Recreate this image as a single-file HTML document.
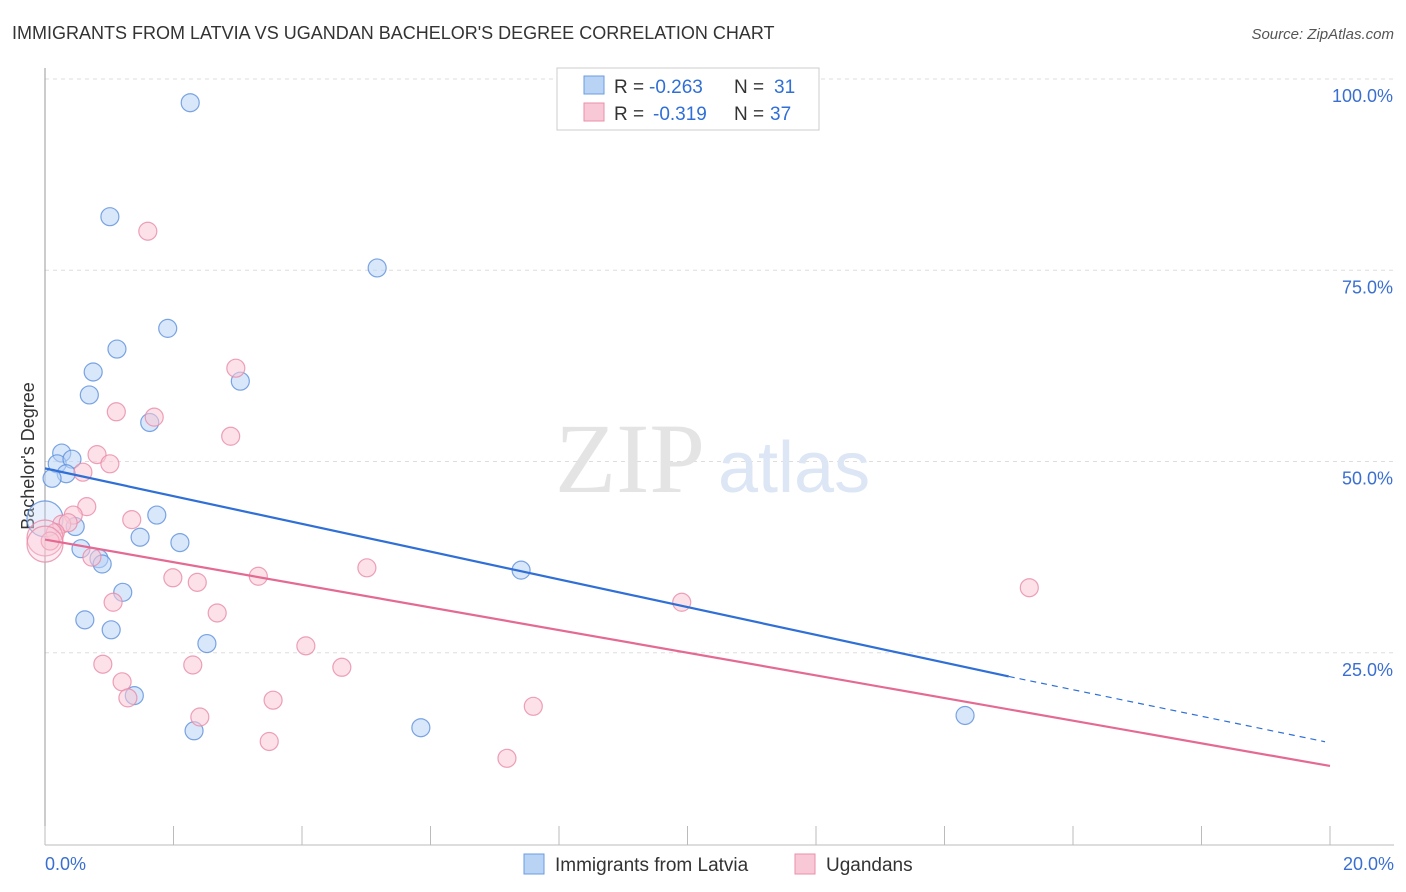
<!DOCTYPE html>
<html><head><meta charset="utf-8"><style>
body{margin:0;background:#fff;font-family:"Liberation Sans",sans-serif;}
svg{display:block}
</style></head><body>
<svg id="chart" width="1406" height="892">
<text x="12" y="39" font-size="18" fill="#333">IMMIGRANTS FROM LATVIA VS UGANDAN BACHELOR'S DEGREE CORRELATION CHART</text>
<text x="1394" y="39" font-size="15" fill="#555" font-style="italic" text-anchor="end">Source: ZipAtlas.com</text>
<g id="grid"></g>
<line x1="45" y1="68" x2="45" y2="845" stroke="#999"/>
<line x1="45" y1="845" x2="1394" y2="845" stroke="#bbb"/>
<g id="xticks"></g>
<text x="45" y="870" font-size="18" fill="#3a6fd0">0.0%</text>
<text x="1394" y="870" font-size="18" fill="#3a6fd0" text-anchor="end">20.0%</text>
<text transform="translate(34,456) rotate(-90)" font-size="18" fill="#333" text-anchor="middle">Bachelor's Degree</text>
<text x="555" y="492" font-size="100" fill="#e4e4e4" font-family="Liberation Serif">ZIP</text>
<text x="718" y="492" font-size="72" fill="#dce6f4">atlas</text>
<g id="pts"></g>
<g id="lines"></g>
<rect x="557" y="68" width="262" height="62" fill="#fff" stroke="#ccc"/>
<rect x="584" y="76" width="20" height="18" fill="#b9d3f5" stroke="#6b9be0"/>
<rect x="584" y="103" width="20" height="18" fill="#f9c8d6" stroke="#ea8fab"/>
<g font-size="19" fill="#333">
<text x="614" y="93">R =</text><text x="649" y="93" fill="#2f6fd6">-0.263</text><text x="734" y="93">N =</text><text x="774" y="93" fill="#2f6fd6">31</text>
</g>
<g font-size="19" fill="#333">
<text x="614" y="120">R =</text><text x="653" y="120" fill="#2f6fd6">-0.319</text><text x="734" y="120">N =</text><text x="770" y="120" fill="#2f6fd6">37</text>
</g>
<rect x="524" y="854" width="20" height="20" fill="#b9d3f5" stroke="#6b9be0"/>
<text x="555" y="871" font-size="19" fill="#333">Immigrants from Latvia</text>
<rect x="795" y="854" width="20" height="20" fill="#f9c8d6" stroke="#ea8fab"/>
<text x="826" y="871" font-size="19" fill="#333">Ugandans</text>
</svg>
<script>
const yTicks=[100,75,50,25];
const yTickLabels=["100.0%","75.0%","50.0%","25.0%"];
const xTicks=[0,2,4,6,8,10,12,14,16,18,20];
const latviaX=[2.26,1.01,5.17,1.91,1.12,0.75,0.69,3.04,1.63,0.26,0.19,0.42,0.33,0.11,-0.08,0.47,1.74,1.48,2.1,0.56,0.84,0.89,1.21,0.62,1.03,2.52,1.39,2.32,5.85,7.41,14.32];
const latviaY=[96.9,82.0,75.3,67.4,64.7,61.7,58.7,60.5,55.1,51.1,49.7,50.3,48.4,47.8,42.5,41.5,43.0,40.1,39.4,38.6,37.3,36.6,32.9,29.3,28.0,26.2,19.4,14.8,15.2,35.8,16.8];
const ugX=[1.6,2.97,1.11,1.7,2.89,0.81,1.01,0.59,0.65,0.44,0.26,1.35,0.36,0.16,0,0.08,0.73,1.99,2.37,3.32,5.01,1.06,2.68,9.91,15.32,4.06,0.9,2.3,4.62,1.2,1.29,3.55,2.41,7.6,3.49,7.19,0];
const ugY=[80.1,62.2,56.5,55.8,53.3,50.9,49.7,48.6,44.1,43.0,41.8,42.4,42.0,40.7,40.0,39.6,37.5,34.8,34.2,35.0,36.1,31.6,30.2,31.6,33.5,25.9,23.5,23.4,23.1,21.2,19.1,18.8,16.6,18.0,13.4,11.2,39.2];
const latviaTrend=[0,49.1,15,21.9,20,13.5];
const ugTrend=[0,39.8,20,10.2];
const X=v=>45+v*64.25, Y=v=>844-v*7.65;
const NS="http://www.w3.org/2000/svg";
function mk(t,a,p){const e=document.createElementNS(NS,t);for(const k in a)e.setAttribute(k,a[k]);p.appendChild(e);return e;}
const grid=document.getElementById('grid');
yTicks.forEach((t,i)=>{
 const l=mk('line',{x1:45,x2:1394,y1:Y(t),y2:Y(t),stroke:'#ddd','stroke-dasharray':'4,4'},grid);
 
 
 const tx=mk('text',{x:1393,y:Y(t)+23,'font-size':18,fill:'#3a6fd0','text-anchor':'end'},grid);
 tx.textContent=yTickLabels[i];
 
 
});
const xt=document.getElementById('xticks');
xTicks.forEach(t=>{
 const l=mk('line',{x1:X(t),x2:X(t),y1:826,y2:845,stroke:'#bbb'},xt);
 
 
});
const pts=document.getElementById('pts');
function dots(xs,ys,fill,stroke,name){xs.forEach((x,i)=>{
 const big=x<=0;
 const c=mk('circle',{cx:X(Math.max(x,0)),cy:Y(ys[i]),r:big?18:9,fill:fill,'fill-opacity':big?0.35:0.55,stroke:stroke,'stroke-opacity':0.8,'stroke-width':1.2},pts);
 
 
});}
dots(latviaX,latviaY,'#b9d3f5','#5b8fdc','point-latvia');
dots(ugX,ugY,'#f9c8d6','#e98aa8','point-ugandans');
const ln=document.getElementById('lines');
const b1=mk('line',{x1:X(latviaTrend[0]),y1:Y(latviaTrend[1]),x2:X(latviaTrend[2]),y2:Y(latviaTrend[3]),stroke:'#2f6fd6','stroke-width':2.2},ln);


const b2=mk('line',{x1:X(latviaTrend[2]),y1:Y(latviaTrend[3]),x2:X(latviaTrend[4])-5,y2:Y(latviaTrend[5])+1,stroke:'#2f6fd6','stroke-width':1.2,'stroke-dasharray':'6,5'},ln);


const p1=mk('line',{x1:X(ugTrend[0]),y1:Y(ugTrend[1]),x2:X(ugTrend[2]),y2:Y(ugTrend[3]),stroke:'#e46a93','stroke-width':2.2},ln);


</script>
</body></html>
